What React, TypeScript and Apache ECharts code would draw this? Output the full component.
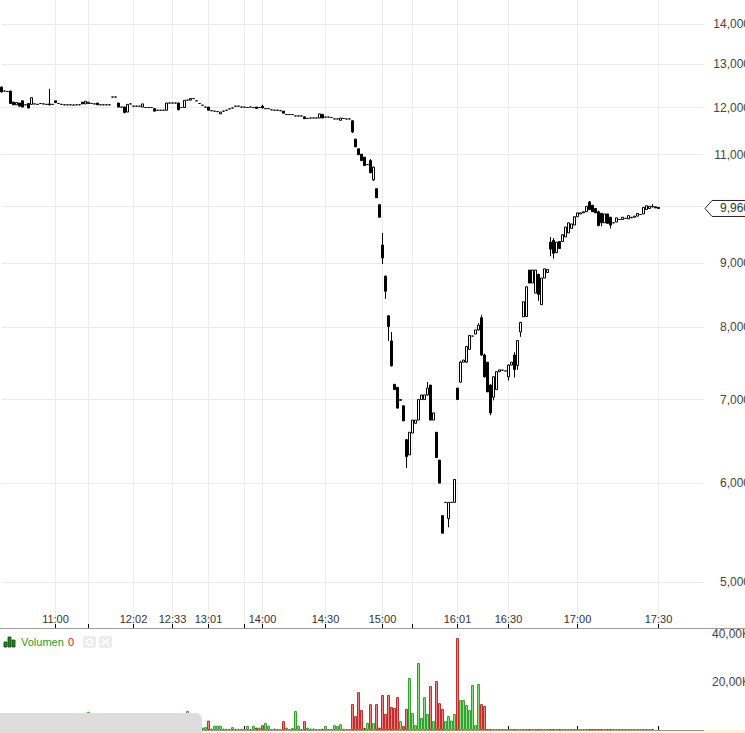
import React, { useEffect, useRef } from "react";
import * as echarts from "echarts";

// ---------- axis / tick data ----------
const SLOT_COUNT = 235; // trading slots on the time axis (incl. empty right padding)
const TIME_TICK_INDEX = [18, 29, 44, 57, 69, 81, 87, 108, 127, 137, 152, 169, 192, 219];
const TIME_TICK_LABEL = ["11:00", "", "12:02", "12:33", "13:01", "", "14:00", "14:30", "15:00", "", "16:01", "16:30", "17:00", "17:30"];
const PRICE_TICKS = [5000, 6000, 7000, 8000, 9000, 10000, 11000, 12000, 13000, 14000];
const PRICE_LABELS = [5000, 6000, 7000, 8000, 9000, 11000, 12000, 13000, 14000]; // 10,000 sits under the last-price badge
const PRICE_MIN = 4592;
const PRICE_MAX = 14634;
const VOLUME_MAX = 40000;
const VOLUME_STEP = 20000;
const LAST_PRICE = 9960;

// ---------- candles: [open, close, low?, high?]  (single number = flat trade) ----------
type Candle = number | number[];
const CANDLES: Candle[] = [
  [12460, 12350, 12340, 12480], 12370, 12360, [12370, 12090, 12080, 12380], [12120, 12060], [12060, 12110], [12100, 12030], [12150, 12010], 12060, [12090, 11990, 11980, 12100],
  [12070, 12220], 12080, 12070, 12090, 12080, 12070, [12080, 12060, 12050, 12420], 12070, [12150, 12110], 12090,
  12070, 12060, 12060, 12060, 12055, 12060, 12060, [12120, 12080], [12080, 12140], [12090, 12120],
  12090, 12080, [12100, 12060], 12060, 12060, 12060, 12060, 12235, 12235, [12100, 12010],
  12010, [12010, 11890, 11870, 12020], [11900, 12070], 12080, 12030, 12030, 12030, [12010, 12080], 12000, 12000,
  12000, [11975, 11920], 11940, 11940, 11940, [11940, 12100], 12100, 12100, 12100, [12100, 11950, 11940, 12110],
  12000, [12000, 12160], 12165, [12165, 12200], 12200, 12150, 12090, 12050, 12010, [12010, 11940],
  11930, 11920, 11910, [11860, 11900], 11920, 11940, 11970, 11990, 12030, 12030,
  12010, 12010, 12000, 12010, 12000, [12010, 11980], 12000, [12030, 11990, 11985, 12060], 11975, 11975,
  11950, 11940, 11940, 11930, [11920, 11875], 11845, 11845, 11845, 11815, 11815,
  11815, [11795, 11755], 11760, 11770, 11770, 11770, [11770, 11860], [11850, 11770], 11790, 11790,
  11780, 11750, 11750, [11720, 11770], 11760, 11750, 11750, [11710, 11470, 11450, 11720], [11320, 11160], [11120, 11000],
  [11010, 10880], [10950, 10780], 10800, [10880, 10640, 10630, 10910], [10500, 10750, 10480, 10760], [10330, 10160], [10030, 9800], [9310, 9090, 8990, 9520], [8790, 8550, 8430, 8800], [8170, 8010, 7800, 8180],
  [7800, 7450, 7440, 7930], [7200, 7130], [7160, 6890], [6990, 7000], [6920, 6730], [6500, 6300, 6170, 6510], [6320, 6590], [6580, 6740], [6700, 6740], [6740, 7000],
  [7000, 7060], [7000, 7060], [7060, 7150, 7050, 7230], [7190, 6740], [6740, 6830], [6590, 6290], [6260, 6000], [5650, 5470], 5790, [5620, 5790, 5530, 5790],
  5790, [5790, 6040], [7150, 7000], [7230, 7500, 7220, 7520], [7500, 7530], [7500, 7720, 7490, 7730], [7680, 7880], 7870, [7900, 7960], [7960, 8030, 7950, 8060],
  [8140, 7600, 7590, 8180], [7600, 7300, 7290, 7620], [7500, 7100], [7190, 6830, 6800, 7200], [7030, 7300, 6990, 7310], [7130, 7370], [7370, 7395], 7390, 7380, [7300, 7460, 7250, 7470],
  [7460, 7500], [7600, 7400, 7290, 7640], [7455, 7805, 7395, 7810], [7930, 8070, 7860, 8080], [8155, 8385], [8160, 8620], [8890, 8680], [8680, 8890], [8520, 8890], [8820, 8500, 8400, 8830],
  [8340, 8760], [8760, 8910], [8850, 8900], [9360, 9240, 9120, 9450], [9390, 9170, 9080, 9430], [9180, 9360], [9370, 9250], [9370, 9490], [9450, 9625], [9520, 9700],
  [9600, 9680], [9660, 9810], [9810, 9880], [9860, 9880], [9880, 9900], [9900, 10000], [10080, 9940, 9930, 10100], [10020, 9900], [9960, 9880], [9900, 9650, 9640, 9920],
  [9870, 9700, 9640, 9880], [9700, 9860], [9860, 9690], [9800, 9660, 9600, 9810], 9700, [9714, 9790], 9760, [9760, 9800], 9780, [9770, 9830],
  [9790, 9800], [9800, 9820], [9820, 9870], 9850, [9860, 9980], [9940, 10010], [9960, 10000], [10000, 9990, 9980, 10040], [9990, 9970], [9980, 9960],
];

// ---------- volume per candle ----------
const VOLUME: number[] = [
  1500, 1200, 1000, 2500, 1500, 1200, 1500, 1000, 1200, 2000,
  2500, 1000, 800, 800, 800, 800, 3000, 800, 1500, 1000,
  800, 800, 800, 800, 800, 800, 800, 1500, 1800, 7600,
  1000, 800, 1500, 800, 800, 800, 800, 1200, 800, 1500,
  800, 2500, 2000, 1000, 800, 800, 800, 1500, 800, 800,
  800, 1500, 800, 800, 800, 2500, 800, 800, 800, 3000,
  800, 2000, 7900, 1500, 800, 800, 1000, 1000, 1200, 3900,
  600, 1800, 1800, 1800, 600, 500, 500, 1200, 500, 500,
  500, 400, 1700, 400, 1800, 1000, 1000, 2000, 2900, 1800,
  400, 600, 300, 300, 3700, 1000, 300, 800, 7900, 1800,
  400, 3700, 1000, 600, 600, 300, 300, 500, 1700, 300,
  300, 2000, 1700, 2400, 500, 300, 300, 10800, 5800, 15800,
  8300, 800, 2900, 10800, 2900, 10800, 1000, 14600, 6700, 14600,
  9600, 9200, 13700, 3700, 1700, 8800, 21700, 7100, 2000, 27900,
  5000, 13700, 6700, 18300, 3700, 20400, 11200, 8800, 3700, 5800,
  3900, 6700, 38300, 12500, 12500, 10400, 8300, 18800, 2000, 19200,
  10800, 10000, 250, 250, 250, 250, 250, 250, 250, 250,
  250, 250, 250, 250, 250, 250, 250, 250, 250, 250,
  250, 250, 250, 250, 250, 250, 250, 250, 250, 250,
  250, 250, 250, 250, 250, 250, 250, 250, 250, 250,
  250, 250, 250, 250, 250, 250, 250, 250, 250, 250,
  250, 250, 250, 250, 250, 250, 250, 250,
];

const FONT = "'Liberation Sans', Arial, sans-serif";

export default function App() {
  const ref = useRef<HTMLDivElement>(null);

  useEffect(() => {
    if (!ref.current) return;
    const chart = echarts.init(ref.current, undefined, { renderer: "svg" });

    const categories = Array.from({ length: SLOT_COUNT }, (_, i) => String(i));
    const tickSet = new Set(TIME_TICK_INDEX);
    const labelMap = new Map<number, string>();
    TIME_TICK_INDEX.forEach((idx, k) => labelMap.set(idx, TIME_TICK_LABEL[k]));

    const ohlc = CANDLES.map((c) => {
      if (typeof c === "number") return [c, c, c, c];
      const o = c[0];
      const cl = c[1];
      const l = Math.min(o, cl, c.length > 2 ? c[2] : Infinity);
      const h = Math.max(o, cl, c.length > 3 ? c[3] : -Infinity);
      return [o, cl, l, h];
    });
    const candleData = ohlc.map((r) => r.map((v) => Math.log10(v)));

    const volData = VOLUME.map((v, i) => {
      const up = ohlc[i][1] >= ohlc[i][0];
      return {
        value: v,
        itemStyle: up
          ? { color: "#a8f0a0", borderColor: "#1f9a1f" }
          : { color: "#f4a4a4", borderColor: "#c01818" },
      };
    });

    const gridLeft = 1.5;
    const gridRight = 41.5;
    const labelMargin = 750 - (745 - gridRight);

    const option: any = {
      animation: false,
      backgroundColor: "#ffffff",
      grid: [
        { left: gridLeft, right: gridRight, top: 0, height: 628, containLabel: false, outerBoundsMode: "none" },
        { left: gridLeft, right: gridRight, top: 634, height: 96, containLabel: false, outerBoundsMode: "none" },
      ],
      xAxis: [
        {
          type: "category",
          gridIndex: 0,
          data: categories,
          boundaryGap: false,
          axisLine: { show: false },
          axisTick: {
            show: true,
            inside: true,
            length: 4,
            interval: (i: number) => tickSet.has(i),
            lineStyle: { color: "#000" },
          },
          axisLabel: {
            inside: true,
            margin: 4,
            interval: (i: number) => !!labelMap.get(i),
            formatter: (v: string) => labelMap.get(Number(v)) || "",
            color: "#333",
            fontSize: 11,
            fontFamily: FONT,
          },
          splitLine: {
            show: true,
            interval: (i: number) => tickSet.has(i),
            lineStyle: { color: "#ebebeb", width: 1 },
          },
        },
        {
          type: "category",
          gridIndex: 1,
          data: categories,
          boundaryGap: false,
          axisLine: { show: true, lineStyle: { color: "#3a3a3a", width: 1 } },
          axisTick: {
            show: true,
            inside: true,
            length: 4,
            interval: (i: number) => tickSet.has(i),
            lineStyle: { color: "#000" },
          },
          axisLabel: { show: false },
          splitLine: { show: false },
        },
      ],
      yAxis: [
        {
          type: "value",
          gridIndex: 0,
          position: "right",
          min: Math.log10(PRICE_MIN),
          max: Math.log10(PRICE_MAX),
          axisLine: { show: false },
          axisTick: { show: false, customValues: PRICE_TICKS.map((v) => Math.log10(v)) },
          axisLabel: {
            customValues: PRICE_LABELS.map((v) => Math.log10(v)),
            formatter: (v: number) => (Math.round(Math.pow(10, v) / 1000) * 1000).toLocaleString("en-US"),
            align: "right",
            margin: labelMargin,
            color: "#444",
            fontSize: 12,
            fontFamily: FONT,
          },
          splitLine: { show: true, lineStyle: { color: "#ebebeb", width: 1 } },
        },
        {
          type: "value",
          gridIndex: 1,
          position: "right",
          min: 0,
          max: VOLUME_MAX,
          interval: VOLUME_STEP,
          axisLine: { show: false },
          axisTick: { show: false },
          axisLabel: {
            showMinLabel: false,
            formatter: (v: number) => (v / 1000).toFixed(2).replace(".", ",") + "K",
            align: "right",
            margin: labelMargin,
            color: "#444",
            fontSize: 12,
            fontFamily: FONT,
          },
          splitLine: { show: false },
        },
      ],
      series: [
        {
          type: "candlestick",
          xAxisIndex: 0,
          yAxisIndex: 0,
          data: candleData,
          barWidth: 2.6,
          itemStyle: {
            color: "#ffffff",
            color0: "#000000",
            borderColor: "#000000",
            borderColor0: "#000000",
            borderWidth: 1,
          },
        },
        {
          type: "bar",
          xAxisIndex: 1,
          yAxisIndex: 1,
          data: volData,
          barWidth: 2.8,
          itemStyle: { borderWidth: 1 },
        },
      ],
    };
    chart.setOption(option);

    const yLast = chart.convertToPixel({ yAxisIndex: 0 }, Math.log10(LAST_PRICE)) as number;
    const tipX = 745 - gridRight + 1.5;
    chart.setOption({
      graphic: {
        elements: [
          { type: "line", shape: { x1: 0, y1: 628.5, x2: 745, y2: 628.5 }, style: { stroke: "#9a9a9a", lineWidth: 1 }, z: 50 },
          {
            type: "polygon",
            shape: { points: [[tipX, yLast], [tipX + 7, yLast - 8], [760, yLast - 8], [760, yLast + 8], [tipX + 7, yLast + 8]] },
            style: { fill: "#ffffff", stroke: "#222", lineWidth: 1 },
            z: 60,
          },
          {
            type: "text",
            x: 750,
            y: yLast,
            style: { text: LAST_PRICE.toLocaleString("en-US"), align: "right", verticalAlign: "middle", fill: "#333", font: `12px ${FONT}` },
            z: 61,
          },
          // volume legend
          { type: "rect", shape: { x: 4, y: 642, width: 3, height: 5 }, style: { fill: "#1c8a1c", stroke: "#0b3d0b", lineWidth: 0.8 }, z: 60 },
          { type: "rect", shape: { x: 8, y: 637, width: 3, height: 10 }, style: { fill: "#1c8a1c", stroke: "#0b3d0b", lineWidth: 0.8 }, z: 60 },
          { type: "rect", shape: { x: 12, y: 640, width: 3, height: 7 }, style: { fill: "#1c8a1c", stroke: "#0b3d0b", lineWidth: 0.8 }, z: 60 },
          { type: "text", x: 21, y: 642, style: { text: "Volumen", fill: "#2a9a2a", font: `11px ${FONT}`, verticalAlign: "middle" }, z: 60 },
          { type: "text", x: 68, y: 642, style: { text: "0", fill: "#d02020", font: `11px ${FONT}`, verticalAlign: "middle" }, z: 60 },
          { type: "rect", shape: { x: 83, y: 636, width: 13, height: 12, r: 2 }, style: { fill: "#ececec" }, z: 60 },
          { type: "circle", shape: { cx: 89.5, cy: 642, r: 3 }, style: { fill: "none", stroke: "#ffffff", lineWidth: 1.5 }, z: 61 },
          { type: "rect", shape: { x: 99, y: 636, width: 13, height: 12, r: 2 }, style: { fill: "#ececec" }, z: 60 },
          { type: "line", shape: { x1: 102, y1: 639, x2: 109, y2: 645 }, style: { stroke: "#ffffff", lineWidth: 1.5 }, z: 61 },
          { type: "line", shape: { x1: 109, y1: 639, x2: 102, y2: 645 }, style: { stroke: "#ffffff", lineWidth: 1.5 }, z: 61 },
          // bottom band & scroller
          { type: "rect", shape: { x: 0, y: 730.5, width: 745, height: 3 }, style: { fill: "#fbf3c4" }, z: 40 },
          { type: "rect", shape: { x: 0, y: 713, width: 202, height: 21, r: [0, 6, 0, 0] }, style: { fill: "#dddddd" }, z: 70 },
        ],
      },
    });

    return () => chart.dispose();
  }, []);

  return (
    <div
      ref={ref}
      style={{ position: "absolute", left: 0, top: 0, width: 745, height: 733, background: "#fff" }}
    />
  );
}
